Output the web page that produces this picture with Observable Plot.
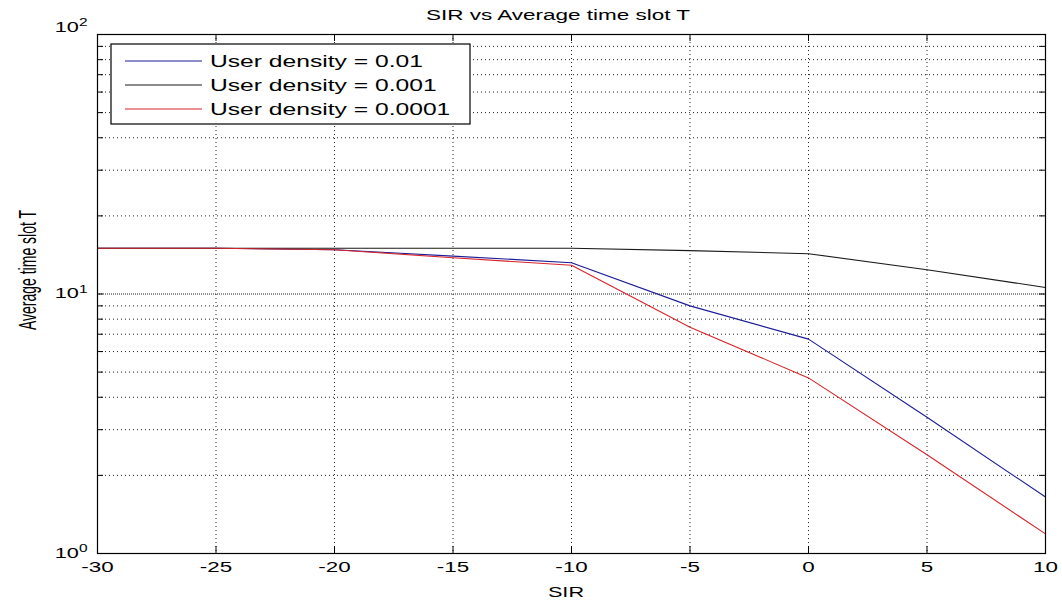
<!DOCTYPE html>
<html><head><meta charset="utf-8">
<script src="https://cdn.jsdelivr.net/npm/d3@7"></script>
<script src="https://cdn.jsdelivr.net/npm/@observablehq/plot@0.6"></script>
<style>body{margin:0;background:#fff} svg{display:block}</style>
</head><body><div id="chart"></div>
<script>
// ---- data ----
const sir = [-30, -25, -20, -15, -10, -5, 0, 5, 10];
const density001 = [15.0, 15.0, 14.8, 14.0, 13.2, 9.0, 6.7, 3.35, 1.65];
const density0001 = [15.0, 15.0, 15.0, 15.0, 15.0, 14.7, 14.3, 12.4, 10.6];
const density00001 = [15.0, 15.0, 14.8, 13.8, 12.9, 7.45, 4.75, 2.4, 1.19];
const seriesNames = ["User density = 0.01", "User density = 0.001", "User density = 0.0001"];
const seriesColors = ["#1c1c96", "#1a1a1a", "#d8232a"];
const xTicks = [-30, -25, -20, -15, -10, -5, 0, 5, 10];
const xGrid = [-25, -20, -15, -10, -5, 0, 5];
const yMajor = [1, 10, 100];
const yMinor = [2, 3, 4, 5, 6, 7, 8, 9, 20, 30, 40, 50, 60, 70, 80, 90];
const titleText = "SIR vs Average time slot T";
const xLabel = "SIR";
const yLabel = "Average time slot T";

const seriesValues = [density001, density0001, density00001];
const rows = seriesNames.flatMap((name, i) => sir.map((x, j) => ({series: name, sir: x, t: seriesValues[i][j]})));

const W = 1062, H = 607, mL = 97, mR = 17, mT = 34, mB = 54;
const fw = W - mL - mR, fh = H - mT - mB;
const sup = {1: "0", 10: "1", 100: "2"};

const svgNode = Plot.plot({
  width: W, height: H,
  marginLeft: mL, marginRight: mR, marginTop: mT, marginBottom: mB,
  style: {fontFamily: "'Liberation Sans', Arial, sans-serif", fontSize: "14px", color: "#000", background: "#fff", overflow: "visible"},
  x: {domain: [-30, 10]},
  y: {type: "log", domain: [1, 100]},
  color: {domain: seriesNames, range: seriesColors},
  marks: [
    Plot.ruleX(xGrid, {x: d => d, stroke: "#222", strokeDasharray: "1,3"}),
    Plot.ruleY(yMinor, {y: d => d, stroke: "#222", strokeDasharray: "1,3"}),
    Plot.ruleY([10], {y: d => d, stroke: "#222", strokeDasharray: "1,3"}),
    Plot.ruleY([10], {y: d => d, stroke: "#222", strokeDasharray: "1,3", strokeDashoffset: 2}),
    Plot.line(rows, {x: "sir", y: "t", stroke: "series", strokeWidth: 1.1}),
    Plot.frame({stroke: "#000", strokeWidth: 1.2}),
    Plot.tickX(xTicks, {x: d => d, insetTop: fh - 7, stroke: "#000"}),
    Plot.tickX(xTicks, {x: d => d, insetBottom: fh - 7, stroke: "#000"}),
    Plot.tickY(yMajor.concat(yMinor), {y: d => d, insetRight: fw - 6, stroke: "#000"}),
    Plot.tickY(yMajor.concat(yMinor), {y: d => d, insetLeft: fw - 6, stroke: "#000"}),
    Plot.axisX(xTicks, {anchor: "bottom", tickSize: 0, tickPadding: 9, label: null, tickFormat: d => String(d)}),
    Plot.axisY([1, 10], {anchor: "left", tickSize: 0, tickPadding: 10, label: null, tickFormat: d => "10^" + sup[d]}),
    Plot.axisY([100], {anchor: "left", tickSize: 0, tickPadding: 10, label: null, dy: -7, tickFormat: d => "10^" + sup[d]})
  ]
});
document.getElementById("chart").appendChild(svgNode);
const svg = d3.select(svgNode);

function stretch(sel, s) {
  sel.each(function() {
    const t = d3.select(this);
    const ax = +(t.attr("x") || 0);
    const tr = t.attr("transform") || "";
    t.attr("transform", `${tr} translate(${ax},0) scale(${s},1) translate(${-ax},0)`);
  });
}

// superscript exponents on y tick labels
svg.selectAll('g[aria-label="y-axis tick label"] text').each(function() {
  const t = d3.select(this);
  const parts = t.text().split("^");
  if (parts.length === 2) {
    t.text(parts[0]);
    t.append("tspan").attr("dy", "-0.55em").attr("font-size", "10px").text(parts[1]);
  }
});
stretch(svg.selectAll('g[aria-label="y-axis tick label"] text'), 1.55);
stretch(svg.selectAll('g[aria-label="x-axis tick label"] text'), 1.6);

// title and axis labels
const title = svg.append("text").attr("x", 558).attr("y", 15).attr("dy", "0.35em")
  .attr("text-anchor", "middle").attr("font-size", "15px").text(titleText);
stretch(title, 1.5);
const xl = svg.append("text").attr("x", 566).attr("y", 592).attr("dy", "0.35em")
  .attr("text-anchor", "middle").attr("font-size", "14px").text(xLabel);
stretch(xl, 1.55);
svg.append("text").attr("transform", "translate(28,270) scale(1.7,1) rotate(-90)")
  .attr("dy", "0.35em").attr("text-anchor", "middle").attr("font-size", "14px").text(yLabel);

// legend
const lg = svg.append("g");
lg.append("rect").attr("x", 111).attr("y", 44).attr("width", 359).attr("height", 80)
  .attr("fill", "#fff").attr("stroke", "#000").attr("stroke-width", 1.2);
seriesNames.forEach((n, i) => {
  const y = 61 + i * 24;
  lg.append("line").attr("x1", 125).attr("x2", 202).attr("y1", y).attr("y2", y)
    .attr("stroke", seriesColors[i]).attr("stroke-width", 1.1);
  const t = lg.append("text").attr("x", 210).attr("y", y).attr("dy", "0.36em")
    .attr("text-anchor", "start").attr("font-size", "17px").text(n);
  stretch(t, 1.45);
});
</script>
</body></html>
